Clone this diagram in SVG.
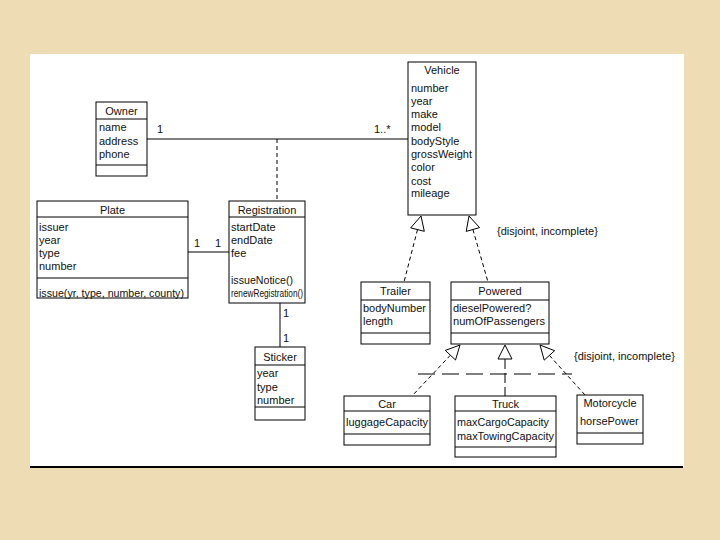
<svg xmlns="http://www.w3.org/2000/svg" width="720" height="540" viewBox="0 0 720 540">
<style>
.box{fill:#fff;stroke:#000;stroke-width:1}
.ln{stroke:#000;stroke-width:1;fill:none}
.dash{stroke:#000;stroke-width:1;fill:none;stroke-dasharray:4,3}
.tri{fill:#fff;stroke:#000;stroke-width:1}
text{font-family:"Liberation Sans",Arial,sans-serif;font-size:11px;fill:#111}
.c{text-anchor:middle}
</style>
<rect x="0" y="0" width="720" height="540" fill="#eedcb4"/>
<rect x="30" y="54" width="654" height="413" fill="#fff"/>
<line x1="30" y1="467" x2="683" y2="467" stroke="#000" stroke-width="2"/>

<g id="connectors">
<line class="ln" x1="146" y1="139" x2="408" y2="139"/>
<text x="157" y="133">1</text>
<text x="374" y="133">1..*</text>
<line class="dash" x1="277" y1="139" x2="277" y2="201"/>
<line class="ln" x1="188" y1="252" x2="229" y2="252"/>
<text x="194" y="247">1</text>
<text x="215" y="247">1</text>
<line class="ln" x1="280" y1="303" x2="280" y2="347"/>
<text x="283" y="317">1</text>
<text x="283" y="342">1</text>
<line class="dash" x1="417.5" y1="229.6" x2="404" y2="282"/>
<polygon class="tri" points="421,216 424.3,231.3 410.7,227.9"/>
<line class="dash" x1="472.9" y1="229.5" x2="488" y2="282"/>
<polygon class="tri" points="469,216 479.6,227.6 466.2,231.4"/>
<text x="497" y="235">{disjoint, incomplete}</text>
<line class="dash" x1="450.4" y1="355.2" x2="412" y2="396"/>
<polygon class="tri" points="460,345 455.5,360 445.3,350.4"/>
<line class="ln" x1="505" y1="359" x2="505" y2="396" stroke-dasharray="10,4"/>
<polygon class="tri" points="505,345 512,359 498,359"/>
<line class="dash" x1="549.4" y1="355.4" x2="585" y2="395"/>
<polygon class="tri" points="540,345 554.6,350.7 544.2,360.1"/>
<line class="ln" x1="418" y1="374" x2="572" y2="374" stroke-dasharray="17,7"/>
<text x="574" y="360">{disjoint, incomplete}</text>
</g>

<g id="owner">
<rect class="box" x="96" y="102" width="51" height="74"/>
<line class="ln" x1="96" y1="119" x2="147" y2="119"/>
<line class="ln" x1="96" y1="165" x2="147" y2="165"/>
<text class="c" x="121.5" y="115">Owner</text>
<text x="99" y="131">name</text>
<text x="99" y="145">address</text>
<text x="99" y="158">phone</text>
</g>

<g id="vehicle">
<rect class="box" x="408" y="62" width="68" height="153"/>
<text class="c" x="442" y="74">Vehicle</text>
<text x="411" y="92">number</text>
<text x="411" y="105">year</text>
<text x="411" y="118">make</text>
<text x="411" y="131">model</text>
<text x="411" y="145">bodyStyle</text>
<text x="411" y="158">grossWeight</text>
<text x="411" y="171">color</text>
<text x="411" y="185">cost</text>
<text x="411" y="197">mileage</text>
</g>

<g id="plate">
<rect class="box" x="37" y="201" width="151" height="97"/>
<line class="ln" x1="37" y1="217" x2="188" y2="217"/>
<line class="ln" x1="37" y1="278" x2="188" y2="278"/>
<text class="c" x="112.5" y="214">Plate</text>
<text x="39" y="231">issuer</text>
<text x="39" y="244">year</text>
<text x="39" y="257">type</text>
<text x="39" y="270">number</text>
<text x="39" y="297" textLength="145" lengthAdjust="spacingAndGlyphs">issue(yr, type, number, county)</text>
</g>

<g id="registration">
<rect class="box" x="229" y="201" width="76" height="102"/>
<line class="ln" x1="229" y1="217" x2="305" y2="217"/>
<text class="c" x="267" y="214">Registration</text>
<text x="231" y="231">startDate</text>
<text x="231" y="244">endDate</text>
<text x="231" y="257">fee</text>
<text x="231" y="284" textLength="62" lengthAdjust="spacingAndGlyphs">issueNotice()</text>
<text x="231" y="297" textLength="72" lengthAdjust="spacingAndGlyphs" style="font-size:10.5px">renewRegistration()</text>
</g>

<g id="sticker">
<rect class="box" x="255" y="347" width="50" height="73"/>
<line class="ln" x1="255" y1="365" x2="305" y2="365"/>
<line class="ln" x1="255" y1="407" x2="305" y2="407"/>
<text class="c" x="280" y="361">Sticker</text>
<text x="257" y="377">year</text>
<text x="257" y="391">type</text>
<text x="257" y="404">number</text>
</g>

<g id="trailer">
<rect class="box" x="361" y="282" width="69" height="62"/>
<line class="ln" x1="361" y1="300" x2="430" y2="300"/>
<line class="ln" x1="361" y1="333" x2="430" y2="333"/>
<text class="c" x="395.5" y="295">Trailer</text>
<text x="363" y="312">bodyNumber</text>
<text x="363" y="325">length</text>
</g>

<g id="powered">
<rect class="box" x="451" y="282" width="98" height="62"/>
<line class="ln" x1="451" y1="300" x2="549" y2="300"/>
<line class="ln" x1="451" y1="333" x2="549" y2="333"/>
<text class="c" x="500" y="295">Powered</text>
<text x="453" y="312">dieselPowered?</text>
<text x="453" y="325" textLength="92" lengthAdjust="spacingAndGlyphs">numOfPassengers</text>
</g>

<g id="car">
<rect class="box" x="344" y="396" width="86" height="49"/>
<line class="ln" x1="344" y1="411" x2="430" y2="411"/>
<line class="ln" x1="344" y1="434" x2="430" y2="434"/>
<text class="c" x="387" y="408">Car</text>
<text x="346" y="426">luggageCapacity</text>
</g>

<g id="truck">
<rect class="box" x="455" y="396" width="101" height="61"/>
<line class="ln" x1="455" y1="411" x2="556" y2="411"/>
<line class="ln" x1="455" y1="447" x2="556" y2="447"/>
<text class="c" x="505.5" y="408">Truck</text>
<text x="457" y="426" textLength="92" lengthAdjust="spacingAndGlyphs">maxCargoCapacity</text>
<text x="457" y="440" textLength="97" lengthAdjust="spacingAndGlyphs">maxTowingCapacity</text>
</g>

<g id="motorcycle">
<rect class="box" x="577" y="395" width="66" height="49"/>
<line class="ln" x1="577" y1="433" x2="643" y2="433"/>
<text class="c" x="610" y="407">Motorcycle</text>
<text x="580" y="425">horsePower</text>
</g>
</svg>
